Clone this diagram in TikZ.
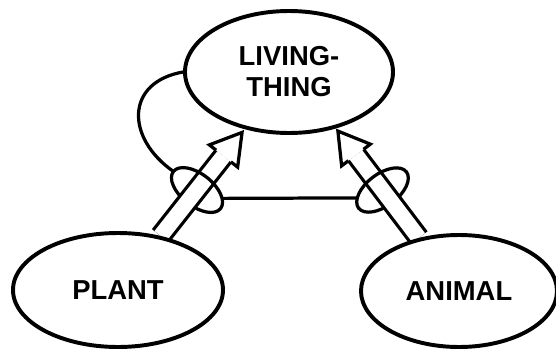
\documentclass[tikz,border=0pt]{standalone}
\usepackage{fontspec}
\setmainfont{Liberation Sans}
\usetikzlibrary{shapes.geometric,backgrounds}
\begin{document}
\begin{tikzpicture}[
    x=0.25mm,
    y=0.25mm,
    concept/.style={
        draw,
        ellipse,
        line width=2.8pt,
        fill=white,
        inner sep=0pt,
        align=center,
        font=\bfseries\fontsize{19.5}{22}\selectfont
    },
    shaft/.style={
        line width=2.3pt,
        double=white,
        double distance=3.9mm
    },
    arrowhead/.style={
        draw,
        line width=2.3pt,
        fill=white,
        line join=miter
    },
    ring/.style={line width=2.3pt},
    link/.style={line width=2.3pt}
]

\useasboundingbox (0,0) rectangle (556,350);

\node[concept, minimum width=52mm, minimum height=30.5mm] (living) at (289,278) {LIVING-\\THING};
\node[concept, minimum width=52.5mm, minimum height=28.5mm] (plant) at (118,60) {PLANT};
\node[concept, minimum width=49mm, minimum height=28mm] (animal) at (459,59) {ANIMAL};

\coordinate (lbase) at (223.5,194);
\coordinate (rbase) at (356,195);
\coordinate (lring) at (197,160);
\coordinate (rring) at (382.5,160);

\begin{scope}[on background layer]
    \draw[ring, rotate around={51.8:(lring)}] (lring) ellipse [x radius=16, y radius=30];
    \draw[ring, rotate around={127.1:(rring)}] (rring) ellipse [x radius=16, y radius=30];
    \draw[shaft] (plant) -- (lbase);
    \draw[shaft] (animal) -- (rbase);
    \begin{scope}[shift={(lbase)}, rotate=51.8]
        \draw[arrowhead] (0,9.4) -- (0,18) -- (30,0) -- (0,-18) -- (0,-9.4);
    \end{scope}
    \begin{scope}[shift={(rbase)}, rotate=127.1]
        \draw[arrowhead] (0,9.4) -- (0,18) -- (30,0) -- (0,-18) -- (0,-9.4);
    \end{scope}
    \begin{scope}[shift={(lring)}, rotate=51.8]
        \coordinate (lringt) at (0,30);
        \coordinate (lringr) at (9,-25);
        \clip (0,-9.4) rectangle (25,9.4);
        \draw[ring] (0,0) ellipse [x radius=16, y radius=30];
    \end{scope}
    \begin{scope}[shift={(rring)}, rotate=127.1, yscale=-1]
        \coordinate (rringl) at (9,-25);
        \clip (0,-9.4) rectangle (25,9.4);
        \draw[ring] (0,0) ellipse [x radius=16, y radius=30];
    \end{scope}
\end{scope}

\draw[link] (living.west) to[out=190, in=145, looseness=1.5] (lringt);
\draw[link] (lringr) -- (rringl);

\end{tikzpicture}
\end{document}
